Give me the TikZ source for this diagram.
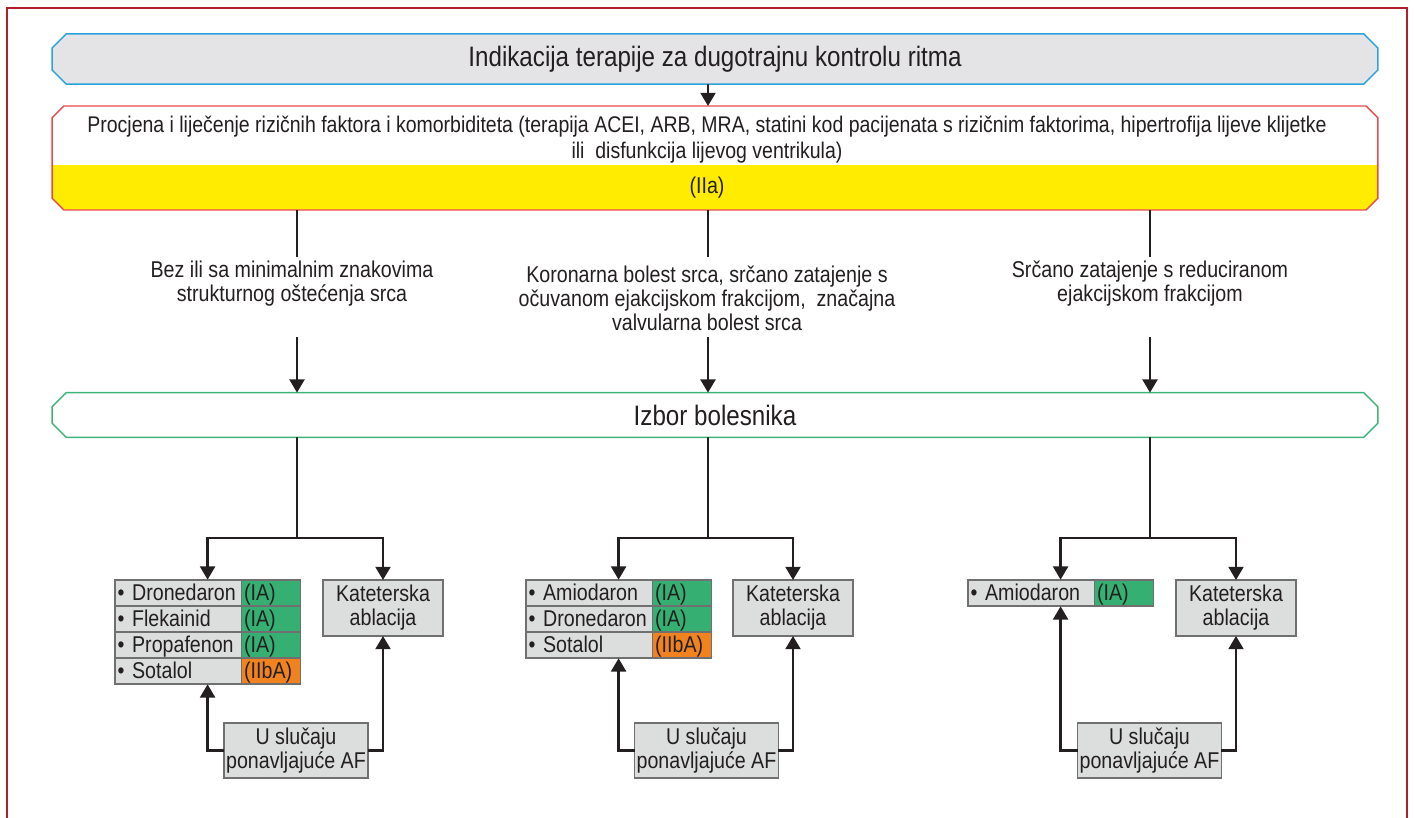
\documentclass[tikz,border=0pt]{standalone}
\usepackage{fontspec}
\setmainfont{Liberation Sans}[FakeStretch=0.86]
\usetikzlibrary{shapes.misc,arrows.meta,positioning,fit}
\usepackage{xcolor}
\definecolor{framered}{RGB}{176,31,43}
\definecolor{titleblue}{RGB}{41,163,220}
\definecolor{titlegray}{RGB}{228,228,230}
\definecolor{riskred}{RGB}{232,74,80}
\definecolor{iiayellow}{RGB}{255,236,0}
\definecolor{selgreen}{RGB}{61,181,122}
\definecolor{cellgray}{RGB}{220,221,221}
\definecolor{cellline}{RGB}{112,112,112}
\definecolor{iagreen}{RGB}{53,176,114}
\definecolor{iibaorange}{RGB}{240,130,32}
\definecolor{txtgray}{RGB}{35,31,32}
\newcommand\bodyfont{\fontsize{13}{13.6}\selectfont}
\newcommand\riskfont{\fontsize{12.9}{14.8}\selectfont}
\newcommand\headfont{\fontsize{16}{17.5}\selectfont}

\begin{document}
\begin{tikzpicture}[x=0.02cm, y=-0.02cm, >={Triangle[length=7.5pt,width=8.5pt]},
    every node/.append style={font=\bodyfont, text=txtgray},
    chbox/.style={chamfered rectangle, chamfered rectangle xsep=4.5pt, line width=0.8pt, minimum width=26.52cm, outer sep=0pt},
    titlebox/.style={chbox, draw=titleblue, fill=titlegray, minimum height=0.84cm, font=\headfont},
    riskbox/.style={chbox, draw=riskred, fill=white, minimum height=2.08cm,
        path picture={\fill[iiayellow] ([yshift=0.9cm]path picture bounding box.south west) rectangle (path picture bounding box.south east);}},
    selbox/.style={chbox, draw=selgreen, fill=white, minimum height=0.86cm, font=\headfont},
    drug/.style={rectangle, draw=cellline, fill=cellgray, line width=0.6pt, text width=69pt, align=left, inner xsep=1.5pt, inner ysep=0pt,
        text height=10.9pt, text depth=2.5pt, minimum height=0.52cm, outer sep=0pt},
    cls/.style={drug, text width=30.4pt, fill=iagreen},
    clsb/.style={cls, fill=iibaorange},
    grbox/.style={rectangle, draw=cellline, fill=cellgray, line width=0.6pt, align=center, inner sep=0pt, outer sep=0pt},
    katbox/.style={grbox, minimum width=2.4cm, minimum height=1.12cm},
    recbox/.style={grbox, minimum width=2.88cm, minimum height=1.1cm},
    conn/.style={draw=txtgray, line width=1.3pt}]
    \useasboundingbox (0,0) rectangle (1414,818);
    \draw[framered, line width=1.5pt] (7,818) -- (7,8) -- (1407,8) -- (1407,818);

    % top boxes
    \node [titlebox] (title) at (715,59) {Indikacija terapije za dugotrajnu kontrolu ritma};
    \node [riskbox] (risk) at (715,158) {};
    \node [align=center, font=\riskfont] (risktxt) at (707,140) {Procjena i liječenje rizičnih faktora i komorbiditeta (terapija ACEI, ARB, MRA, statini kod pacijenata s rizičnim faktorima, hipertrofija lijeve klijetke\\ili~ disfunkcija lijevog ventrikula)};
    \node (iia) at (707,188) {(IIa)};

    % patient groups
    \node [align=center] (grp1) at (292,284) {Bez ili sa minimalnim znakovima\\strukturnog oštećenja srca};
    \node [align=center] (grp2) at (707,298) {Koronarna bolest srca, srčano zatajenje s\\očuvanom ejakcijskom frakcijom,~ značajna\\valvularna bolest srca};
    \node [align=center] (grp3) at (1150,284) {Srčano zatajenje s reduciranom\\ejakcijskom frakcijom};
    \coordinate (in1) at (297,257); \coordinate (out1) at (297,337);
    \coordinate (in2) at (708,257); \coordinate (out2) at (708,337);
    \coordinate (in3) at (1150,257); \coordinate (out3) at (1150,337);

    \node [selbox] (sel) at (715,415) {Izbor bolesnika};

    % first group
    \node [drug, anchor=north west] (t1d1) at (115,580) {• Dronedaron};
    \node [cls, right=0pt of t1d1] (t1c1) {(IA)};
    \node [drug, below=0pt of t1d1] (t1d2) {• Flekainid};
    \node [cls, right=0pt of t1d2] (t1c2) {(IA)};
    \node [drug, below=0pt of t1d2] (t1d3) {• Propafenon};
    \node [cls, right=0pt of t1d3] (t1c3) {(IA)};
    \node [drug, below=0pt of t1d3] (t1d4) {• Sotalol};
    \node [clsb, right=0pt of t1d4] (t1c4) {(IIbA)};
    \node [fit=(t1d1)(t1c4), inner sep=0pt] (tab1) {};
    \node [katbox, anchor=north] (kat1) at (383,580) {Kateterska\\ablacija};
    \node [recbox] (rec1) at (296,750.5) {U slučaju\\ponavljajuće AF};
    \coordinate (split1) at (297,538);

    % second group
    \node [drug, anchor=north west] (t2d1) at (526,580) {• Amiodaron};
    \node [cls, right=0pt of t2d1] (t2c1) {(IA)};
    \node [drug, below=0pt of t2d1] (t2d2) {• Dronedaron};
    \node [cls, right=0pt of t2d2] (t2c2) {(IA)};
    \node [drug, below=0pt of t2d2] (t2d3) {• Sotalol};
    \node [clsb, right=0pt of t2d3] (t2c3) {(IIbA)};
    \node [fit=(t2d1)(t2c3), inner sep=0pt] (tab2) {};
    \node [katbox, anchor=north] (kat2) at (793,580) {Kateterska\\ablacija};
    \node [recbox] (rec2) at (706.5,750.5) {U slučaju\\ponavljajuće AF};
    \coordinate (split2) at (708,538);

    % third group
    \node [drug, anchor=north west] (t3d1) at (968,580) {• Amiodaron};
    \node [cls, right=0pt of t3d1] (t3c1) {(IA)};
    \node [fit=(t3d1)(t3c1), inner sep=0pt] (tab3) {};
    \node [katbox, anchor=north] (kat3) at (1236,580) {Kateterska\\ablacija};
    \node [recbox] (rec3) at (1149.5,750.5) {U slučaju\\ponavljajuće AF};
    \coordinate (split3) at (1150,538);

    % connectors
    \draw [conn, ->] (title.south -| in2) -- (risk.north -| in2);
    \draw [conn] (risk.south -| in1) -- (in1);
    \draw [conn] (risk.south -| in2) -- (in2);
    \draw [conn] (risk.south -| in3) -- (in3);
    \draw [conn, ->] (out1) -- (sel.north -| out1);
    \draw [conn, ->] (out2) -- (sel.north -| out2);
    \draw [conn, ->] (out3) -- (sel.north -| out3);
    \draw [conn] (sel.south -| split1) -- (split1);
    \draw [conn] (sel.south -| split2) -- (split2);
    \draw [conn] (sel.south -| split3) -- (split3);
    \draw [conn, ->] (split1) -| (tab1.north);
    \draw [conn, ->] (split1) -| (kat1.north);
    \draw [conn, ->] (split2) -| (tab2.north);
    \draw [conn, ->] (split2) -| (kat2.north);
    \draw [conn, ->] (split3) -| (tab3.north);
    \draw [conn, ->] (split3) -| (kat3.north);
    \draw [conn, ->] (rec1.west) -| (tab1.south);
    \draw [conn, ->] (rec1.east) -| (kat1.south);
    \draw [conn, ->] (rec2.west) -| (tab2.south);
    \draw [conn, ->] (rec2.east) -| (kat2.south);
    \draw [conn, ->] (rec3.west) -| (tab3.south);
    \draw [conn, ->] (rec3.east) -| (kat3.south);
\end{tikzpicture}
\end{document}
